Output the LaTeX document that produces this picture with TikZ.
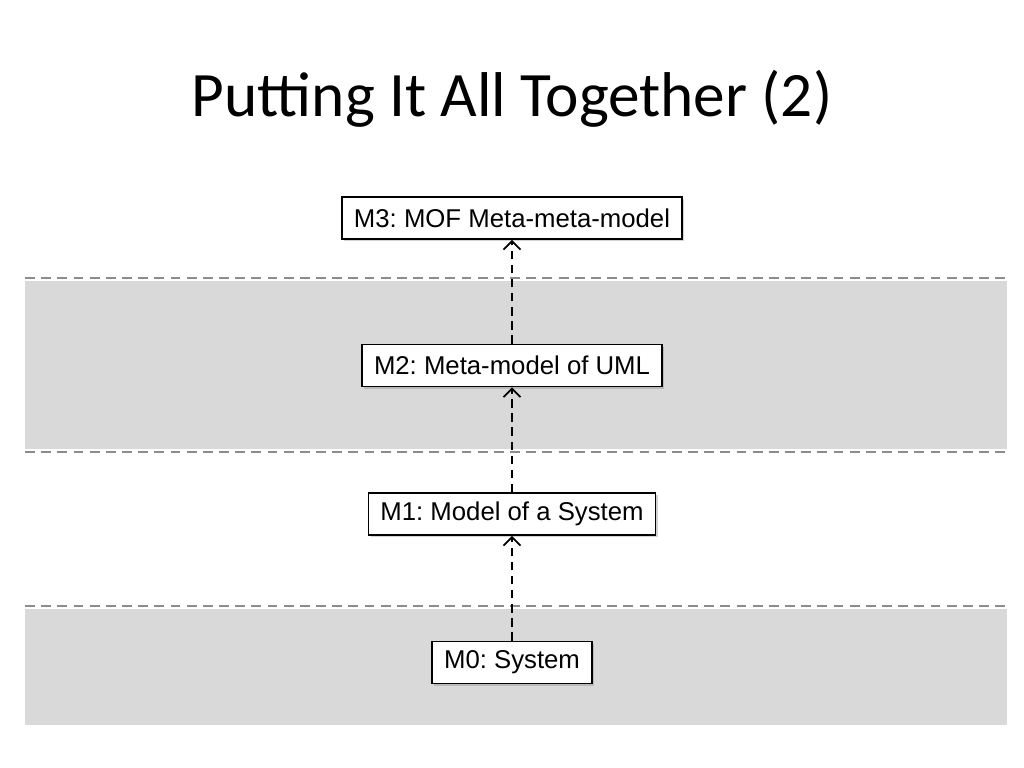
\documentclass[tikz,border=0pt]{standalone}
\usepackage{fontspec}
\setmainfont{Liberation Sans}
\newfontfamily\titlefont{Carlito}
\usepackage{tikz}
\usetikzlibrary{arrows.meta,shadows}
\frenchspacing

\definecolor{bandgray}{RGB}{217,217,217}
\definecolor{linegray}{RGB}{140,140,140}

\tikzset{
  level/.style={draw, line width=1.2pt, fill=white, font=\fontsize{18.3}{21}\selectfont,
    inner xsep=0.3cm, minimum height=1.05cm,
    drop shadow={opacity=0.35, shadow xshift=0.06cm, shadow yshift=-0.06cm}},
  instof/.style={line width=1.5pt, dash pattern=on 6pt off 4pt,
    -{Straight Barb[length=6pt, width=12pt, line width=1.3pt]}},
  sep/.style={linegray, line width=1.4pt, dash pattern=on 7pt off 4.5pt}
}

\begin{document}
\begin{tikzpicture}[x=0.025cm, y=-0.025cm]
            \useasboundingbox (0,0) rectangle (1024,768);
            \node[font=\titlefont\fontsize{45}{50}\selectfont] (title) at (512, 99) {Putting It All Together (2)};
            % bands
            \fill[bandgray] (25,281) rectangle (1007,449);
            \fill[bandgray] (25,609) rectangle (1007,725);
            \draw[sep] (25,278) -- (1007,278);
            \draw[sep] (25,452) -- (1007,452);
            \draw[sep] (25,606) -- (1007,606);
            % levels
            \node[level] (m3) at (512, 218) {M3: MOF Meta-meta-model};
            \node[level] (m2) at (512, 365.5) {M2: Meta-model of UML};
            \node[level] (m1) at (512, 514) {M1: Model of a System};
            \node[level] (m0) at (512, 662.5) {M0: System};
            \draw[instof] (m0) -- (m1);
            \draw[instof] (m1) -- (m2);
            \draw[instof] (m2) -- (m3);
        \end{tikzpicture}
\end{document}
